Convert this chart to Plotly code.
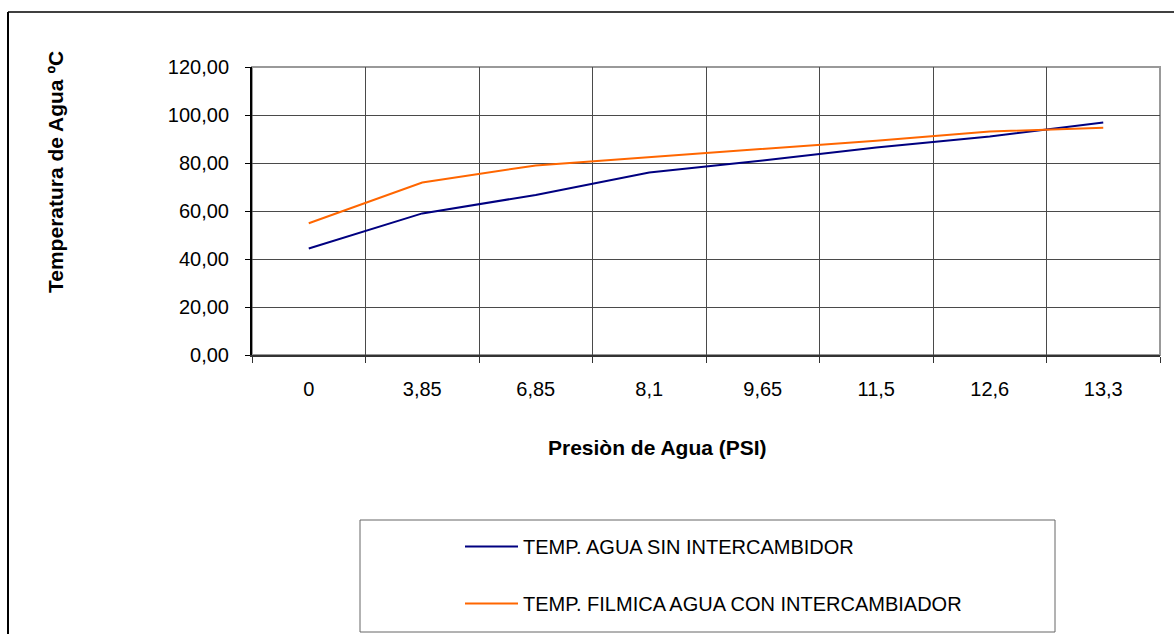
import plotly.graph_objects as go

# ---- data ----
presion = ["0", "3,85", "6,85", "8,1", "9,65", "11,5", "12,6", "13,3"]
temp_sin = [44.4, 59.0, 66.7, 76.0, 81.0, 86.5, 91.0, 96.9]
temp_con = [54.9, 71.9, 79.0, 82.5, 85.7, 89.3, 93.1, 94.7]
serie_sin = "TEMP. AGUA SIN INTERCAMBIDOR"
serie_con = "TEMP. FILMICA AGUA CON INTERCAMBIADOR"
titulo_x = "Presiòn de Agua (PSI)"
titulo_y = "Temperatura de Agua ºC"

W, H = 1174, 634
L, R, T, B = 252, 1160, 67, 355  # plot area in pixels


def px_x(p):
    return (p - L) / (R - L)


def px_y(p):
    return (B - p) / (B - T)


FONT = "Liberation Sans, Arial, sans-serif"

fig = go.Figure()
fig.add_trace(go.Scatter(x=presion, y=temp_sin, mode="lines", name=serie_sin,
                         line=dict(color="#000080", width=2), legendgroup="a"))
fig.add_trace(go.Scatter(x=presion, y=temp_con, mode="lines", name=serie_con,
                         line=dict(color="#FF6600", width=2), legendgroup="b"))

fig.update_layout(
    width=W, height=H,
    margin=dict(l=L, r=W - R, t=T, b=H - B, pad=0, autoexpand=False),
    paper_bgcolor="white", plot_bgcolor="white",
    separators=",.",
    font=dict(family=FONT, size=20, color="black"),
    showlegend=True,
    legend=dict(x=px_x(460), y=px_y(527), xanchor="left", yanchor="top",
                bgcolor="rgba(0,0,0,0)", borderwidth=0,
                font=dict(family=FONT, size=20, color="black"),
                tracegroupgap=28, itemwidth=53),
    xaxis=dict(type="category", range=[-0.5, 7.5], tickson="boundaries",
               ticks="outside", ticklen=6, tickcolor="#333", tickwidth=1,
               showgrid=True, gridcolor="#4a4a4a", gridwidth=1,
               showline=True, linecolor="#333", linewidth=2,
               ticklabelstandoff=15, zeroline=False, automargin=False,
               tickfont=dict(family=FONT, size=20)),
    yaxis=dict(range=[0, 120], dtick=20, tick0=0, tickformat=".2f",
               ticks="outside", ticklen=5, tickcolor="black",
               showgrid=True, gridcolor="#4a4a4a", gridwidth=1,
               showline=True, linecolor="black", linewidth=2,
               zeroline=False, ticklabelstandoff=12, automargin=False,
               tickfont=dict(family=FONT, size=20)),
    shapes=[
        dict(type="rect", xref="paper", yref="paper", x0=0, x1=1, y0=0, y1=1,
             line=dict(color="#999999", width=2), layer="below"),
        dict(type="line", xref="paper", yref="paper",
             x0=px_x(8), x1=px_x(8), y0=px_y(12), y1=px_y(700),
             line=dict(color="black", width=2)),
        dict(type="line", xref="paper", yref="paper",
             x0=px_x(8), x1=px_x(1200), y0=px_y(12), y1=px_y(12),
             line=dict(color="black", width=1.5)),
        dict(type="rect", xref="paper", yref="paper",
             x0=px_x(360), x1=px_x(1055), y0=px_y(520), y1=px_y(632),
             line=dict(color="#666666", width=1)),
    ],
    annotations=[
        dict(text="<b>" + titulo_x + "</b>", xref="paper", yref="paper",
             x=px_x(657), y=px_y(447), xanchor="center", yanchor="middle",
             showarrow=False, font=dict(family=FONT, size=21, color="black")),
        dict(text="<b>" + titulo_y + "</b>", xref="paper", yref="paper",
             x=px_x(55), y=px_y(172), xanchor="center", yanchor="middle",
             textangle=-90, showarrow=False,
             font=dict(family=FONT, size=21, color="black")),
    ],
)

fig.write_html("out.html", config={"displayModeBar": False},
               post_script="document.body.style.margin='0';document.body.style.overflow='hidden';")
